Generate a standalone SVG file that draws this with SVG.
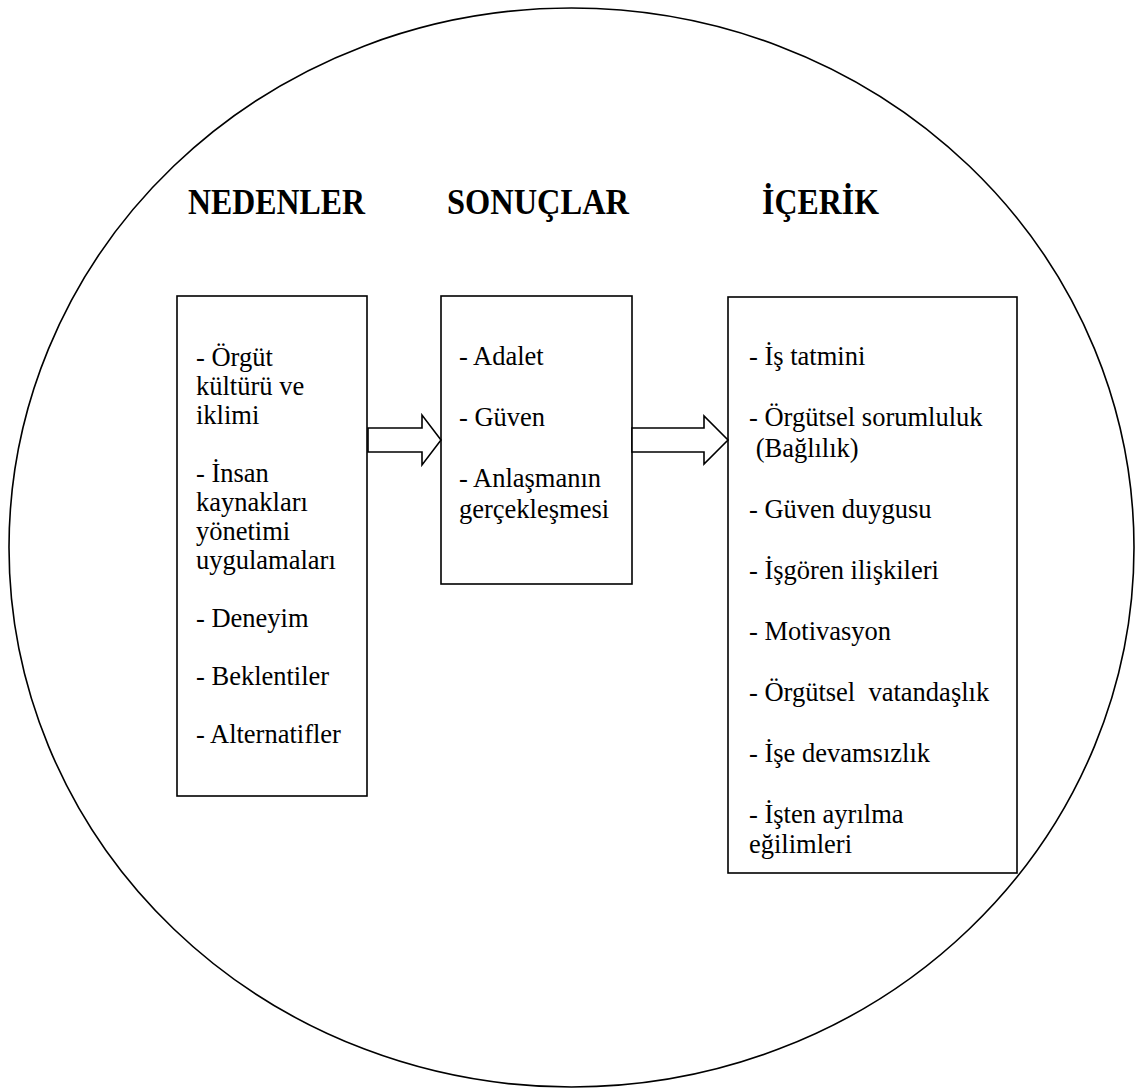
<svg xmlns="http://www.w3.org/2000/svg" width="1137" height="1091" viewBox="0 0 1137 1091">
  <style>
    .frame { fill: none; stroke: #000; stroke-width: 1.6; }
    .box { fill: #fff; stroke: #000; stroke-width: 1.6; }
    .arrow { fill: #fff; stroke: #000; stroke-width: 1.6; stroke-linejoin: miter; }
    .head { font-weight: bold; font-size: 35px; fill: #000; }
    .item { font-size: 26.5px; fill: #000; white-space: pre; }
  </style>

  <rect width="1137" height="1091" fill="#fff"/>

  <!-- enclosing ellipse -->
  <ellipse class="frame" cx="571.5" cy="547.5" rx="562.5" ry="539.5"/>

  <!-- column headings (narrow bold face) -->
  <g id="headings" font-family="'Liberation Serif', 'DejaVu Serif', serif">
    <text class="head" x="188" y="214" textLength="177" lengthAdjust="spacingAndGlyphs">NEDENLER</text>
    <text class="head" x="447" y="214" textLength="182" lengthAdjust="spacingAndGlyphs">SONUÇLAR</text>
    <text class="head" x="762" y="214" textLength="117" lengthAdjust="spacingAndGlyphs">İÇERİK</text>
  </g>

  <!-- causes -->
  <g id="node-nedenler" font-family="'Liberation Serif', 'DejaVu Serif', serif">
    <rect class="box" x="177" y="296" width="190" height="500"/>
    <text class="item" x="196" y="366">- Örgüt</text>
    <text class="item" x="196" y="395">kültürü ve</text>
    <text class="item" x="196" y="424">iklimi</text>
    <text class="item" x="196" y="482">- İnsan</text>
    <text class="item" x="196" y="511">kaynakları</text>
    <text class="item" x="196" y="540">yönetimi</text>
    <text class="item" x="196" y="569">uygulamaları</text>
    <text class="item" x="196" y="627">- Deneyim</text>
    <text class="item" x="196" y="685">- Beklentiler</text>
    <text class="item" x="196" y="743">- Alternatifler</text>
  </g>

  <!-- results -->
  <g id="node-sonuclar" font-family="'Liberation Serif', 'DejaVu Serif', serif">
    <rect class="box" x="441" y="296" width="191" height="288"/>
    <text class="item" x="459" y="365">- Adalet</text>
    <text class="item" x="459" y="426">- Güven</text>
    <text class="item" x="459" y="487">- Anlaşmanın</text>
    <text class="item" x="459" y="517.5">gerçekleşmesi</text>
  </g>

  <!-- content -->
  <g id="node-icerik" font-family="'Liberation Serif', 'DejaVu Serif', serif">
    <rect class="box" x="728" y="297" width="289" height="576"/>
    <text class="item" x="749" y="365">- İş tatmini</text>
    <text class="item" x="749" y="426">- Örgütsel sorumluluk</text>
    <text class="item" x="749" y="456.5"> (Bağlılık)</text>
    <text class="item" x="749" y="517.5">- Güven duygusu</text>
    <text class="item" x="749" y="578.5">- İşgören ilişkileri</text>
    <text class="item" x="749" y="639.5">- Motivasyon</text>
    <text class="item" x="749" y="700.5">- Örgütsel  vatandaşlık</text>
    <text class="item" x="749" y="761.5">- İşe devamsızlık</text>
    <text class="item" x="749" y="822.5">- İşten ayrılma</text>
    <text class="item" x="749" y="853">eğilimleri</text>
  </g>

  <!-- block arrows between columns -->
  <g id="connectors">
    <polygon class="arrow" points="368,428 422,428 422,415 441,440 422,465 422,452 368,452"/>
    <polygon class="arrow" points="632,428 704,428 704,416 728,440 704,464 704,452 632,452"/>
  </g>
</svg>
